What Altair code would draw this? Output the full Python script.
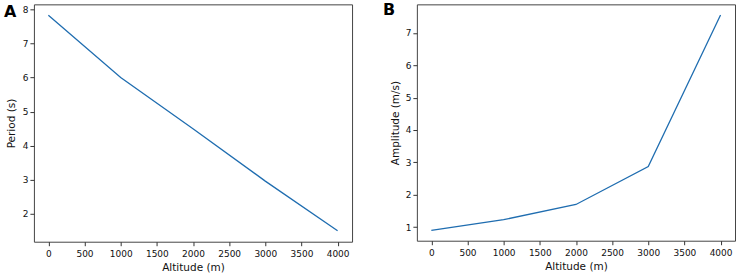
import altair as alt
import pandas as pd

altitude = [0, 1000, 2000, 3000, 4000]
period = [7.83, 6.0, 4.5, 2.96, 1.50]
amplitude = [0.90, 1.23, 1.70, 2.87, 7.55]

x_ticks = [0, 500, 1000, 1500, 2000, 2500, 3000, 3500, 4000]
period_ticks = [2, 3, 4, 5, 6, 7, 8]
amp_ticks = [1, 2, 3, 4, 5, 6, 7]
panel_labels = ["A", "B"]

df = pd.DataFrame({"altitude": altitude, "period": period, "amplitude": amplitude})

FONT = "DejaVu Sans"
LINE = "#1f6db0"

def axis(values, label_pad, title_pad):
    return alt.Axis(values=values, format="d", grid=False, domain=False, tickSize=4,
                    tickColor="#333", labelColor="#111", labelFontSize=9,
                    labelFont=FONT, titleFont=FONT, titleFontSize=10.5,
                    titleFontWeight="normal", titleColor="#111",
                    labelPadding=label_pad, titlePadding=title_pad)

def panel(ycol, ytitle, ydomain, yticks, label, dx, dy, ytpad, w, h):
    line = alt.Chart(df).mark_line(color=LINE, strokeWidth=1.3).encode(
        x=alt.X("altitude:Q", title="Altitude (m)",
                scale=alt.Scale(domain=[-200, 4200], nice=False, zero=False),
                axis=axis(x_ticks, 4, 4)),
        y=alt.Y(f"{ycol}:Q", title=ytitle,
                scale=alt.Scale(domain=ydomain, nice=False, zero=False),
                axis=axis(yticks, 2, ytpad)),
    )
    txt = alt.Chart(pd.DataFrame({"label": [label]})).mark_text(
        font=FONT, fontSize=16, fontWeight="bold", color="#000",
        align="left", baseline="alphabetic"
    ).encode(x=alt.value(dx), y=alt.value(dy), text=alt.Text("label:N"))
    return alt.layer(line, txt).properties(width=w, height=h)

a = panel("period", "Period (s)", [1.18, 8.15], period_ticks, panel_labels[0], -30, 13, 6, 319, 238)
b = panel("amplitude", "Amplitude (m/s)", [0.58, 7.88], amp_ticks, panel_labels[1], -34, 11, 5, 319, 237)

chart = alt.hconcat(a, b, spacing=65, bounds="flush").configure_view(
    stroke="#444", strokeWidth=1
).properties(padding={"left": 3, "top": 1, "right": 5, "bottom": 0})

chart.save("out.html", embed_options={"renderer": "svg", "actions": False})
